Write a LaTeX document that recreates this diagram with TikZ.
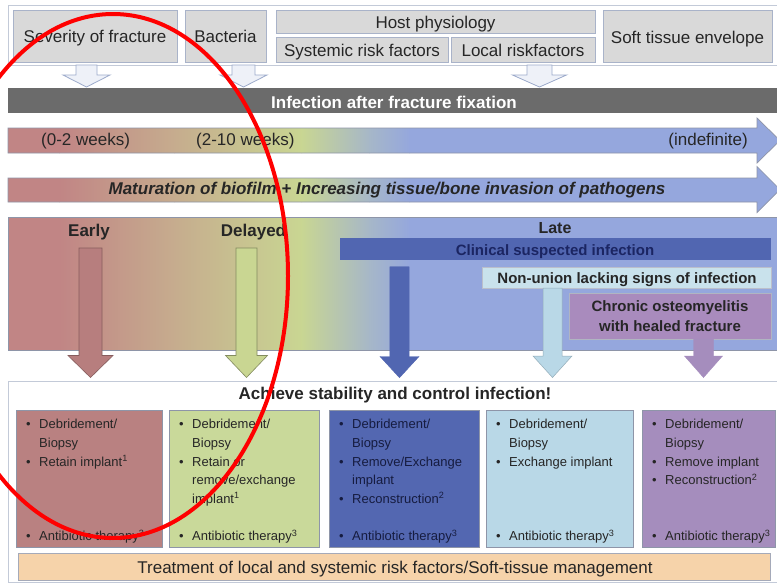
\documentclass[tikz,border=0pt]{standalone}
\usepackage{fontspec}
\setmainfont{Liberation Sans}

% palette
\definecolor{cRose}{HTML}{C18585}
\definecolor{cTan}{HTML}{C6AC8E}
\definecolor{cGreen}{HTML}{C9D692}
\definecolor{cMid}{HTML}{A6B7C8}
\definecolor{cBlue}{HTML}{95A7DD}
\definecolor{cTop}{HTML}{D9D9D9}
\definecolor{cTopEdge}{HTML}{A9B3C9}
\definecolor{cFrame}{HTML}{C3CAD8}
\definecolor{cDark}{HTML}{6B6B6B}
\definecolor{cClin}{HTML}{5166B1}
\definecolor{cClinTxt}{HTML}{1B2562}
\definecolor{cNon}{HTML}{C9E2EC}
\definecolor{cChron}{HTML}{A98BBD}
\definecolor{cB1}{HTML}{B98181}
\definecolor{cB2}{HTML}{C9D99A}
\definecolor{cB3}{HTML}{5367B1}
\definecolor{cB4}{HTML}{B9D8E7}
\definecolor{cB5}{HTML}{A58DBD}
\definecolor{cPeach}{HTML}{F6D3AA}
\definecolor{cEdge}{HTML}{8E95A8}
\definecolor{cTxt}{HTML}{262626}
\definecolor{cNavy}{HTML}{161C40}
\definecolor{cHollow}{HTML}{EEF1F8}
\definecolor{cHollowEdge}{HTML}{9DABCB}

% colour ramp from early (rose) to late (blue), in absolute x positions
\newcommand\gradband[2]{%
  \fill[cRose] (7,#1) rectangle (60,#2);
  \shade[left color=cRose,right color=cTan] (59,#1) rectangle (175,#2);
  \shade[left color=cTan,right color=cGreen] (174,#1) rectangle (302,#2);
  \shade[left color=cGreen,right color=cMid] (301,#1) rectangle (370,#2);
  \shade[left color=cMid,right color=cBlue] (369,#1) rectangle (410,#2);
  \fill[cBlue] (409,#1) rectangle (800,#2);}

% downward block arrow: style, centre x, shaft half width, head half width, top y, head base y, tip y
\newcommand\blockarrow[7]{%
  \draw[#1] ({#2-#3},#5) -- ({#2+#3},#5) -- ({#2+#3},#6) -- ({#2+#4},#6)
    -- (#2,#7) -- ({#2-#4},#6) -- ({#2-#3},#6) -- cycle;}

\begin{document}
\begin{tikzpicture}[x=1pt,y=-1pt,
  f17/.style={font=\fontsize{17}{20}\selectfont, inner sep=0, text=cTxt},
  f17b/.style={font=\fontsize{17}{20}\selectfont\bfseries, inner sep=0, text=cTxt},
  f15b/.style={font=\fontsize{15}{18}\selectfont\bfseries, inner sep=0, text=cTxt},
  bt/.style={font=\fontsize{13}{15}\selectfont, inner sep=0, text=cTxt, anchor=base west},
  bn/.style={bt, text=cNavy},
  topbox/.style={draw=cTopEdge, fill=cTop, line width=0.8, inner sep=0},
  hollow/.style={draw=cHollowEdge, fill=cHollow, line width=0.8},
  tbox/.style={draw=cEdge, line width=0.7, inner sep=0, anchor=north west, minimum height=137},
  frame/.style={draw=cFrame, line width=0.8},
  bandedge/.style={draw=cEdge, line width=0.7}
]
\useasboundingbox (0,0) rectangle (777,584);
\fill[white] (0,0) rectangle (777,584);
\begin{scope}
\clip (0,0) rectangle (777,584);

% ---------------- influencing factors ----------------
\draw[frame] (8,5) rectangle (778,65);
\node[topbox, minimum width=164, minimum height=52] (sev) at (95,36) {};
\node[f17, anchor=base] (sevt) at (95,42.7) {Severity of fracture};
\node[topbox, minimum width=81, minimum height=52] (bac) at (225.5,36) {};
\node[f17, anchor=base] (bact) at (225.5,42.7) {Bacteria};
\node[topbox, minimum width=319, minimum height=23] (host) at (435.5,21.5) {};
\node[f17, anchor=base] (hostt) at (435.5,28.3) {Host physiology};
\node[topbox, minimum width=172, minimum height=25] (sys) at (362,49.5) {};
\node[f17, anchor=base] (syst) at (362,56) {Systemic risk factors};
\node[topbox, minimum width=144, minimum height=25] (loc) at (523,49.5) {};
\node[f17, anchor=base] (loct) at (523,56) {Local riskfactors};
\node[topbox, minimum width=169, minimum height=52] (soft) at (687.5,36) {};
\node[f17, anchor=base] (softt) at (687.5,43) {Soft tissue envelope};

\blockarrow{hollow}{86.5}{10.5}{23.5}{65}{75}{87}
\blockarrow{hollow}{243.5}{11.5}{23.5}{65}{75}{87}
\blockarrow{hollow}{539.5}{12.5}{27}{65}{75}{87}

% ---------------- infection bar ----------------
\fill[cDark] (8,88) rectangle (778,113);
\node[f17b, text=white, anchor=base] (infect) at (394,108) {Infection after fracture fixation};

% ---------------- time line ----------------
\begin{scope}
\clip (8,128) -- (757,128) -- (757,118) -- (780,140.5) -- (757,163) -- (757,153) -- (8,153) -- cycle;
\gradband{110}{170}
\end{scope}
\draw[bandedge] (8,128) -- (757,128) -- (757,118) -- (780,140.5) -- (757,163) -- (757,153) -- (8,153) -- cycle;
\node[f17, anchor=base west] (w02) at (41,145) {(0-2 weeks)};
\node[f17, anchor=base west] (w210) at (196,145) {(2-10 weeks)};
\node[f17, anchor=base east] (windef) at (748,145) {(indefinite)};

\begin{scope}
\clip (8,178) -- (757,178) -- (757,166.5) -- (780,189.5) -- (757,212.5) -- (757,202) -- (8,202) -- cycle;
\gradband{160}{220}
\end{scope}
\draw[bandedge] (8,178) -- (757,178) -- (757,166.5) -- (780,189.5) -- (757,212.5) -- (757,202) -- (8,202) -- cycle;
\node[font=\fontsize{17}{20}\selectfont\bfseries\itshape, inner sep=0, text=cTxt, anchor=base] (matur) at (387,194.3)
  {Maturation of biofilm + Increasing tissue/bone invasion of pathogens};

% ---------------- stages ----------------
\begin{scope}
\clip (8,217) rectangle (778,350);
\gradband{210}{360}
\end{scope}
\draw[bandedge] (8,217) rectangle (778,350);

\node[f17b, anchor=base] (early) at (89,236.7) {Early};
\node[f17b, anchor=base] (delayed) at (253.5,236.7) {Delayed};
\node[font=\fontsize{16}{19}\selectfont\bfseries, inner sep=0, text=cTxt, anchor=base] (late) at (555,233.5) {Late};

\node[fill=cClin, minimum width=431, minimum height=22, inner sep=0] (clin) at (555.5,249) {};
\node[f15b, text=cClinTxt, anchor=base] (clint) at (555,255.7) {Clinical suspected infection};
\node[fill=cNon, draw=cEdge!60, line width=0.5, minimum width=289, minimum height=21, inner sep=0] (non) at (626.5,277.5) {};
\node[f15b, text=black!85, anchor=base] (nont) at (627,283.3) {Non-union lacking signs of infection};
\node[fill=cChron, draw=cEdge!70, line width=0.6, minimum width=202, minimum height=46, inner sep=0] (chron) at (670,316) {};
\node[f15b, text=black!85, anchor=base] (chront1) at (670,311.2) {Chronic osteomyelitis};
\node[f15b, text=black!85, anchor=base] (chront2) at (670,331) {with healed fracture};

\blockarrow{fill=cRose!95!black, draw=cRose!70!black, line width=0.6}{90.5}{11.5}{22.5}{248}{355.5}{377.5}
\blockarrow{fill=cGreen, draw=cGreen!65!black, line width=0.6}{246.5}{10.5}{21}{248}{355.5}{377.5}
\blockarrow{fill=cClin, draw=cClin}{399.5}{9.7}{19.5}{266.7}{356.5}{377.7}
\blockarrow{fill=cB4, draw=cB4!80!black, line width=0.5}{552.5}{9.5}{19.5}{288}{356}{377.5}
\blockarrow{fill=cB5, draw=cB5}{703.5}{10}{19}{339}{356}{377.5}

% ---------------- treatment ----------------
\draw[frame] (8,381) rectangle (778,582);
\node[f17b, anchor=base] (achieve) at (395,399) {Achieve stability and control infection!};

\node[tbox, fill=cB1, minimum width=146] (box1) at (16,410) {};
\node[tbox, fill=cB2, minimum width=150] (box2) at (169,410) {};
\node[tbox, fill=cB3, minimum width=150] (box3) at (329,410) {};
\node[tbox, fill=cB4, minimum width=147] (box4) at (486,410) {};
\node[tbox, fill=cB5, minimum width=133] (box5) at (642,410) {};

% early
\node[bt] (e1b) at (26,428) {\textbullet};
\node[bt] (e1) at (39,428) {Debridement/};
\node[bt] (e2) at (39,447) {Biopsy};
\node[bt] (e3b) at (26,466) {\textbullet};
\node[bt] (e3) at (39,466) {Retain implant\textsuperscript{1}};
\node[bt] (e4b) at (26,540.5) {\textbullet};
\node[bt] (e4) at (39,540.5) {Antibiotic therapy\textsuperscript{3}};
% delayed
\node[bt] (d1b) at (179,428) {\textbullet};
\node[bt] (d1) at (192,428) {Debridement/};
\node[bt] (d2) at (192,447) {Biopsy};
\node[bt] (d3b) at (179,466) {\textbullet};
\node[bt] (d3) at (192,466) {Retain or};
\node[bt] (d4) at (192,484.5) {remove/exchange};
\node[bt] (d5) at (192,503) {implant\textsuperscript{1}};
\node[bt] (d6b) at (179,540.5) {\textbullet};
\node[bt] (d6) at (192,540.5) {Antibiotic therapy\textsuperscript{3}};
% clinical suspected infection
\node[bn] (c1b) at (339,428) {\textbullet};
\node[bn] (c1) at (352,428) {Debridement/};
\node[bn] (c2) at (352,447) {Biopsy};
\node[bn] (c3b) at (339,466) {\textbullet};
\node[bn] (c3) at (352,466) {Remove/Exchange};
\node[bn] (c4) at (352,484.5) {implant};
\node[bn] (c5b) at (339,503) {\textbullet};
\node[bn] (c5) at (352,503) {Reconstruction\textsuperscript{2}};
\node[bn] (c6b) at (339,540.5) {\textbullet};
\node[bn] (c6) at (352,540.5) {Antibiotic therapy\textsuperscript{3}};
% non-union
\node[bt] (n1b) at (496,428) {\textbullet};
\node[bt] (n1) at (509,428) {Debridement/};
\node[bt] (n2) at (509,447) {Biopsy};
\node[bt] (n3b) at (496,466) {\textbullet};
\node[bt] (n3) at (509,466) {Exchange implant};
\node[bt] (n4b) at (496,540.5) {\textbullet};
\node[bt] (n4) at (509,540.5) {Antibiotic therapy\textsuperscript{3}};
% chronic osteomyelitis
\node[bt] (o1b) at (652,428) {\textbullet};
\node[bt] (o1) at (665,428) {Debridement/};
\node[bt] (o2) at (665,447) {Biopsy};
\node[bt] (o3b) at (652,466) {\textbullet};
\node[bt] (o3) at (665,466) {Remove implant};
\node[bt] (o4b) at (652,484.5) {\textbullet};
\node[bt] (o4) at (665,484.5) {Reconstruction\textsuperscript{2}};
\node[bt] (o5b) at (652,540.5) {\textbullet};
\node[bt] (o5) at (665,540.5) {Antibiotic therapy\textsuperscript{3}};

\node[fill=cPeach, draw=cEdge!80, line width=0.7, minimum width=752, minimum height=27, inner sep=0] (mgmt) at (394,566.5) {};
\node[f17, anchor=base] (mgmtt) at (395,573.3) {Treatment of local and systemic risk factors/Soft-tissue management};

% red highlight ring
\draw[red, line width=4] (113,276) ellipse [x radius=175, y radius=262];
\end{scope}
\end{tikzpicture}
\end{document}
